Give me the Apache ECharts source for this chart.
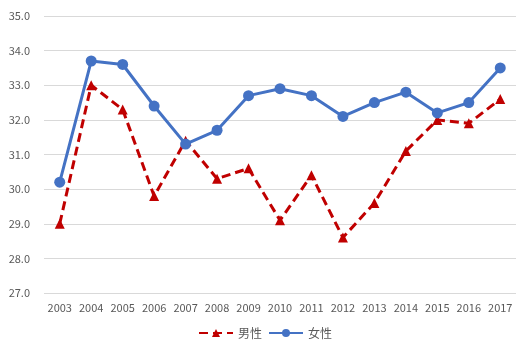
<!DOCTYPE html>
<html><head><meta charset="utf-8">
<script src="https://cdn.jsdelivr.net/npm/echarts@6/dist/echarts.min.js"></script>
<style>html,body{margin:0;padding:0;background:#fff}#c{width:530px;height:357px}</style>
</head><body><div id="c"></div>
<script>
const years = ['2003','2004','2005','2006','2007','2008','2009','2010','2011','2012','2013','2014','2015','2016','2017'];
const male = [29.0,33.0,32.3,29.8,31.4,30.3,30.6,29.1,30.4,28.6,29.6,31.1,32.0,31.9,32.6];
const female = [30.2,33.7,33.6,32.4,31.3,31.7,32.7,32.9,32.7,32.1,32.5,32.8,32.2,32.5,33.5];
const seriesNames = ['男性','女性'];
const chart = echarts.init(document.getElementById('c'));
const font = "'Noto Sans CJK JP', 'Liberation Sans', sans-serif";
chart.setOption({
  animation:false,
  textStyle:{fontFamily:font},
  grid:{left:44,right:14,top:16,bottom:64,containLabel:false},
  legend:{
    bottom:13, left:'center', itemWidth:34, itemHeight:10, itemGap:6,
    textStyle:{color:'#595959',fontSize:12,fontFamily:font},
    data:[{name:seriesNames[0]},{name:seriesNames[1]}]
  },
  xAxis:{
    type:'category', data:years, boundaryGap:true,
    axisLine:{show:false}, axisTick:{show:false},
    axisLabel:{color:'#595959',fontSize:11,margin:9,interval:0}
  },
  yAxis:{
    type:'value', min:27, max:35, interval:1,
    axisLine:{show:false}, axisTick:{show:false},
    splitLine:{lineStyle:{color:'#d9d9d9',width:1}},
    axisLabel:{color:'#595959',fontSize:11,margin:14,formatter:v=>v.toFixed(1)}
  },
  series:[
    {name:seriesNames[0],type:'line',data:male,symbol:'triangle',symbolSize:10,
     lineStyle:{color:'#C00000',width:3,type:[9,5]},itemStyle:{color:'#C00000'},z:2},
    {name:seriesNames[1],type:'line',data:female,symbol:'circle',symbolSize:11,
     lineStyle:{color:'#4472C4',width:3},itemStyle:{color:'#4472C4'},z:3}
  ]
});
</script></body></html>
